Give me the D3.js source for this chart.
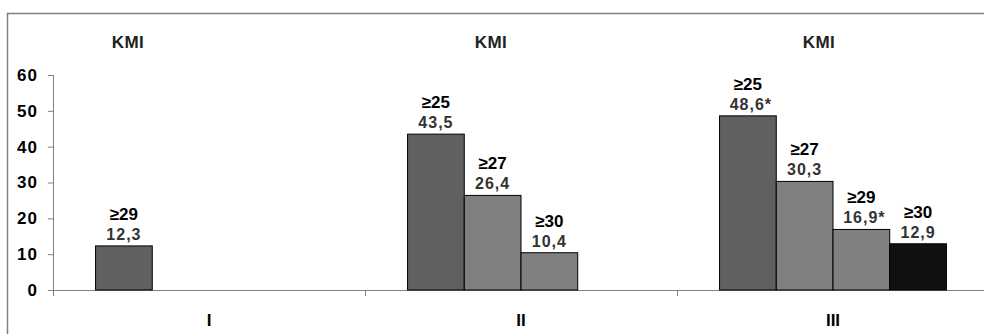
<!DOCTYPE html>
<html><head><meta charset="utf-8">
<script src="https://cdn.jsdelivr.net/npm/d3@7/dist/d3.min.js"></script>
<style>body{margin:0;background:#fff}svg{display:block;font-family:"Liberation Sans",Arial,sans-serif;font-weight:bold}</style>
</head><body><svg id="c" width="984" height="334"></svg>
<script>
const categories = ["I", "II", "III"];
const yTicks = [0, 10, 20, 30, 40, 50, 60];
const series1 = [12.3, 43.5, 48.6];
const series2 = [null, 26.4, 30.3];
const series3 = [null, 10.4, 16.9];
const series4 = [null, null, 12.9];
const thresh1 = ["≥29", "≥25", "≥25"];
const thresh2 = [null, "≥27", "≥27"];
const thresh3 = [null, "≥30", "≥29"];
const thresh4 = [null, null, "≥30"];
const star1 = [false, false, true];
const star2 = [false, false, false];
const star3 = [false, false, true];
const star4 = [false, false, false];
const groupTitle = "KMI";
const seriesColors = ["#606060", "#808080", "#808080", "#111111"];

(function () {
const svg = d3.select("#c");
const pL = 53, pR = 989, pT = 75, pB = 290;

svg.append("rect").attr("x", 7.5).attr("y", 13.5).attr("width", 1000).attr("height", 400)
  .attr("fill", "none").attr("stroke", "#808080").attr("stroke-width", 1.5);

const x = d3.scaleBand().domain(categories).range([pL, pR]).paddingInner(0).paddingOuter(0);
const slots = d3.scaleBand().domain([0, 1, 2, 3]).range([0, x.bandwidth()]).paddingInner(0).paddingOuter(0.75);
const y = d3.scaleLinear().domain([0, 60]).range([pB, pT]);

const allSeries = [series1, series2, series3, series4];
const allThresh = [thresh1, thresh2, thresh3, thresh4];
const allStars = [star1, star2, star3, star4];
const bars = [];
allSeries.forEach((s, si) => s.forEach((v, ci) => {
  if (v != null) bars.push({cat: categories[ci], slot: si, v, t: allThresh[si][ci], star: allStars[si][ci]});
}));

const yAxis = d3.axisLeft(y).tickValues(yTicks).tickSize(5).tickPadding(10).tickFormat(d3.format("d"));
const ya = svg.append("g").attr("transform", `translate(${pL},0)`).call(yAxis);
ya.select(".domain").attr("stroke", "#808080").attr("d", `M0.5,${pT}V${pB + 6}`);
ya.selectAll(".tick line").attr("stroke", "#808080");
ya.selectAll(".tick text").attr("fill", "#000").style("font-size", "17px").style("font-weight", "bold")
  .style("letter-spacing", "1px")
  .style("font-family", '"Liberation Sans",Arial,sans-serif');

const xa = svg.append("g").attr("transform", `translate(0,${pB})`);
xa.append("path").attr("d", `M${pL},0.5H${pR}`).attr("stroke", "#808080").attr("fill", "none");
xa.selectAll("line.sep").data(categories.concat(["end"])).join("line").attr("class", "sep")
  .attr("x1", (d, i) => pL + i * x.bandwidth() + 0.5).attr("x2", (d, i) => pL + i * x.bandwidth() + 0.5)
  .attr("y1", 0).attr("y2", 6).attr("stroke", "#808080");
xa.selectAll("text").data(categories).join("text")
  .attr("x", d => x(d) + x.bandwidth() / 2).attr("y", 36).attr("text-anchor", "middle")
  .style("font-size", "17px").attr("fill", "#000").text(d => d);

svg.append("g").selectAll("rect").data(bars).join("rect")
  .attr("x", d => x(d.cat) + slots(d.slot)).attr("width", slots.bandwidth())
  .attr("y", d => y(d.v)).attr("height", d => y(0) - y(d.v))
  .attr("fill", d => seriesColors[d.slot]).attr("stroke", "#000").attr("stroke-width", 1);

const lab = svg.append("g");
lab.selectAll("text.v").data(bars).join("text").attr("class", "v")
  .attr("x", d => x(d.cat) + slots(d.slot) + slots.bandwidth() / 2 + (d.star ? 3 : 0))
  .attr("y", d => y(d.v) - 6).attr("text-anchor", "middle")
  .style("font-size", "16px").style("letter-spacing", "1px").attr("fill", "#333")
  .text(d => d3.format(".1f")(d.v).replace(".", ",") + (d.star ? "*" : ""));
lab.selectAll("text.t").data(bars).join("text").attr("class", "t")
  .attr("x", d => x(d.cat) + slots(d.slot) + slots.bandwidth() / 2)
  .attr("y", d => y(d.v) - 26).attr("text-anchor", "middle")
  .style("font-size", "17px").attr("fill", "#000").text(d => d.t);

const titleOffsets = [75, 126, 142];
svg.append("g").selectAll("text").data(categories).join("text")
  .attr("x", (d, i) => x(d) + titleOffsets[i]).attr("y", 48).attr("text-anchor", "middle")
  .style("font-size", "17px").style("letter-spacing", "0.5px").attr("fill", "#222").text(groupTitle);
})();
</script></body></html>
